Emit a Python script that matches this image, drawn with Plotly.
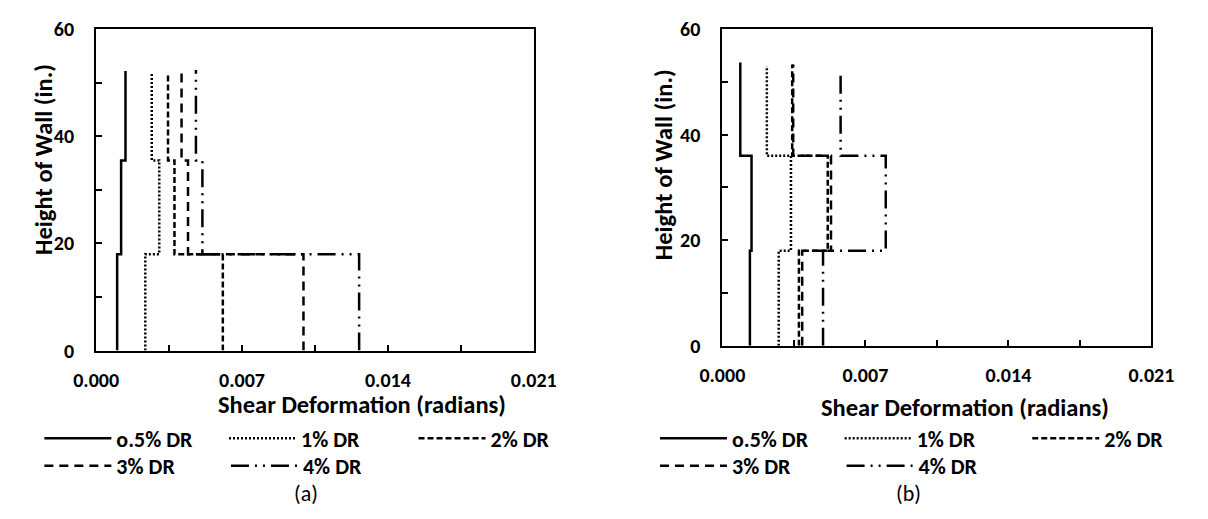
import plotly.graph_objects as go

# Step boundaries (in.) and shear deformation (rad) per segment: bottom, middle, top
step_heights_a = [0, 18, 35.5]
step_heights_b = [0, 18, 36]

series_names = ["o.5% DR", "1% DR", "2% DR", "3% DR", "4% DR"]

shear_a = {
    "o.5% DR": [0.00101, 0.00120, 0.00141],
    "1% DR": [0.00236, 0.00303, 0.00267],
    "2% DR": [0.00608, 0.00376, 0.00345],
    "3% DR": [0.00995, 0.00441, 0.00410],
    "4% DR": [0.01262, 0.00510, 0.00479],
}
top_a = {"o.5% DR": 52.2, "1% DR": 52.0, "2% DR": 51.6, "3% DR": 52.2, "4% DR": 52.4}

shear_b = {
    "o.5% DR": [0.00135, 0.00143, 0.00088],
    "1% DR": [0.00276, 0.00336, 0.00218],
    "2% DR": [0.00375, 0.00516, 0.00342],
    "3% DR": [0.00391, 0.00532, 0.00347],
    "4% DR": [0.00493, 0.00800, 0.00579],
}
top_b = {"o.5% DR": 53.7, "1% DR": 53.0, "2% DR": 53.3, "3% DR": 53.3, "4% DR": 52.2}

x_tickvals = [0, 0.0035, 0.007, 0.0105, 0.014, 0.0175, 0.021]
x_ticktext = ["0.000", "", "0.007", "", "0.014", "", "0.021"]
y_tickvals = [0, 10, 20, 30, 40, 50, 60]
y_ticktext = ["0", "", "20", "", "40", "", "60"]

dashes = {
    "o.5% DR": "solid",
    "1% DR": "2px,2px",
    "2% DR": "6px,3px",
    "3% DR": "9px,6px",
    "4% DR": "18px,6px,2px,6px,2px,6px",
}

# Legend entry slots (left edge of the line sample, row centre) in page pixels
legend_slots_a = {"o.5% DR": (22, 447), "1% DR": (214, 447), "2% DR": (411, 447),
                  "3% DR": (22, 476), "4% DR": (216, 476)}
legend_slots_b = {"o.5% DR": (662, 447), "1% DR": (854, 447), "2% DR": (1049, 447),
                  "3% DR": (662, 476), "4% DR": (856, 476)}

FONT = "Carlito, Calibri, Lato, sans-serif"
W, H = 1208, 519


def px_x(p):
    return p / W


def px_y(p):
    return 1 - p / H


def step_profile(values, heights, top):
    xs, ys = [], []
    bounds = heights[1:] + [top]
    for v, lo, hi in zip(values, heights, bounds):
        xs += [v, v]
        ys += [lo, hi]
    return xs, ys


legend_common = dict(
    orientation="h", bgcolor="rgba(0,0,0,0)", itemwidth=67,
    yanchor="middle", xanchor="left",
    font=dict(family=FONT, size=22, color="black", weight="bold"),
    itemclick=False, itemdoubleclick=False,
)

fig = go.Figure()
legend_layout = {}
legend_index = 0

panels = [
    (shear_a, step_heights_a, top_a, legend_slots_a, "x", "y"),
    (shear_b, step_heights_b, top_b, legend_slots_b, "x2", "y2"),
]
for shear, heights, tops, slots, xref, yref in panels:
    for name in series_names:
        legend_index += 1
        legend_id = "legend" if legend_index == 1 else f"legend{legend_index}"
        xs, ys = step_profile(shear[name], heights, tops[name])
        fig.add_trace(go.Scatter(
            x=xs, y=ys, mode="lines", name=name, xaxis=xref, yaxis=yref,
            line=dict(color="black", width=2.5, dash=dashes[name]),
            legend=legend_id,
        ))
        sx, sy = slots[name]
        legend_layout[legend_id] = dict(legend_common, x=px_x(sx - 5), y=px_y(sy))

axis_common = dict(
    showgrid=False, zeroline=False, showline=True, linecolor="black",
    linewidth=2, mirror=True, ticks="inside", ticklen=6, tickwidth=1.5,
    tickcolor="black",
    tickfont=dict(family=FONT, size=20, color="black", weight="bold"),
)

xa = dict(axis_common, range=[0, 0.021], tickmode="array",
          tickvals=x_tickvals, ticktext=x_ticktext, ticklabelstandoff=10)
ya = dict(axis_common, range=[0, 60], tickmode="array",
          tickvals=y_tickvals, ticktext=y_ticktext, ticklabelstandoff=16)

fig.update_layout(
    width=W, height=H,
    margin=dict(l=0, r=0, t=0, b=0),
    paper_bgcolor="white", plot_bgcolor="white",
    showlegend=True,
    xaxis=dict(xa, domain=[px_x(76), px_x(531)], anchor="y"),
    yaxis=dict(ya, domain=[px_y(355), px_y(18)], anchor="x"),
    xaxis2=dict(xa, domain=[px_x(727), px_x(1173)], anchor="y2"),
    yaxis2=dict(ya, domain=[px_y(350), px_y(18)], anchor="x2"),
    **legend_layout,
)

title_font = dict(family=FONT, size=24.5, color="black", weight="bold")
label_font = dict(family=FONT, size=22, color="black")
annotations = [
    dict(text="Shear Deformation (radians)", x=px_x(352), y=px_y(412)),
    dict(text="Shear Deformation (radians)", x=px_x(979), y=px_y(415)),
    dict(text="Height of Wall (in.)", x=px_x(22), y=px_y(155), textangle=-90),
    dict(text="Height of Wall (in.)", x=px_x(666), y=px_y(160), textangle=-90),
]
for a in annotations:
    fig.add_annotation(xref="paper", yref="paper", showarrow=False,
                       xanchor="center", yanchor="middle", font=title_font, **a)
for txt, xc in [("(a)", 294), ("(b)", 921)]:
    fig.add_annotation(text=txt, xref="paper", yref="paper", x=px_x(xc),
                       y=px_y(505), showarrow=False, xanchor="center",
                       yanchor="middle", font=label_font)

fig.write_html("out.html")
